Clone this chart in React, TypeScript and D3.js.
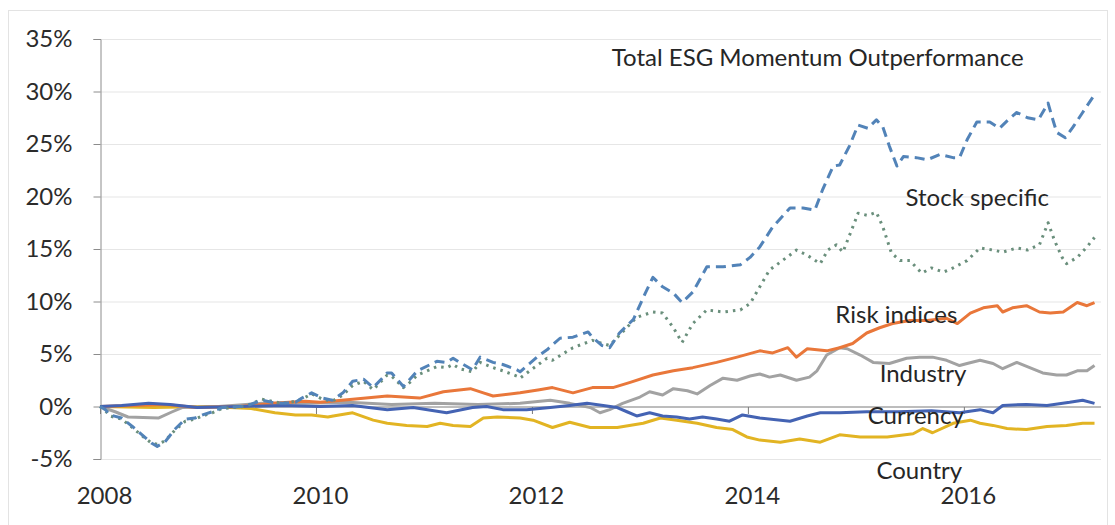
/**
 * ESG momentum outperformance decomposition — cumulative lines by component
 */
import { useEffect, useRef } from 'react';
import * as d3 from 'd3';

type Pt = [number, number]; // [decimal year, %]

const xLabelYears = [2008, 2010, 2012, 2014, 2016];
const yTickValues = [-5, 0, 5, 10, 15, 20, 25, 30, 35];

const totalSeries: Pt[] = [
  [2008.0, 0.0], [2008.05, -0.3], [2008.09, -0.8], [2008.2, -1.1], [2008.3, -1.9], [2008.39, -2.7],
  [2008.48, -3.5], [2008.53, -3.8], [2008.6, -3.4], [2008.69, -2.2], [2008.79, -1.2], [2008.88, -1.1],
  [2008.95, -0.8], [2009.04, -0.5], [2009.13, -0.1], [2009.34, 0.0], [2009.5, 0.6], [2009.59, 0.4],
  [2009.69, 0.3], [2009.81, 0.4], [2009.87, 0.8], [2009.96, 1.3], [2010.06, 0.8], [2010.15, 0.6],
  [2010.25, 1.3], [2010.34, 2.4], [2010.44, 2.6], [2010.53, 1.8], [2010.66, 3.2], [2010.7, 3.2],
  [2010.81, 1.9], [2010.87, 2.6], [2010.94, 3.4], [2011.12, 4.3], [2011.21, 4.2], [2011.27, 4.6],
  [2011.33, 4.2], [2011.45, 3.5], [2011.52, 4.7], [2011.64, 4.2], [2011.73, 4.0], [2011.86, 3.5],
  [2011.89, 3.3], [2011.98, 4.1], [2012.07, 4.9], [2012.14, 5.4], [2012.26, 6.5], [2012.38, 6.6],
  [2012.52, 7.1], [2012.56, 6.6], [2012.65, 5.8], [2012.72, 5.6], [2012.81, 7.0], [2012.94, 8.3],
  [2013.05, 10.8], [2013.12, 12.3], [2013.21, 11.4], [2013.31, 10.8], [2013.39, 9.9], [2013.49, 10.9],
  [2013.62, 13.3], [2013.77, 13.3], [2013.93, 13.5], [2014.02, 14.2], [2014.11, 15.2], [2014.23, 17.1],
  [2014.39, 18.9], [2014.51, 18.9], [2014.62, 18.7], [2014.69, 20.6], [2014.79, 22.9], [2014.85, 23.0],
  [2014.94, 24.8], [2015.02, 26.8], [2015.11, 26.5], [2015.19, 27.3], [2015.25, 26.6], [2015.31, 24.8],
  [2015.38, 22.9], [2015.44, 23.8], [2015.56, 23.7], [2015.66, 23.5], [2015.78, 24.0], [2015.9, 23.7],
  [2015.96, 23.7], [2016.03, 25.4], [2016.12, 27.1], [2016.24, 27.1], [2016.33, 26.5], [2016.41, 27.3],
  [2016.49, 28.0], [2016.59, 27.5], [2016.69, 27.3], [2016.78, 28.9], [2016.81, 27.8], [2016.86, 26.1],
  [2016.94, 25.6], [2017.01, 26.6], [2017.1, 28.0], [2017.21, 29.7],
];

const stockSeries: Pt[] = [
  [2008.0, 0.0], [2008.05, -0.4], [2008.09, -0.9], [2008.2, -1.2], [2008.3, -2.0], [2008.39, -2.8],
  [2008.48, -3.5], [2008.53, -3.6], [2008.6, -3.3], [2008.69, -2.3], [2008.79, -1.4], [2008.88, -1.2],
  [2008.95, -0.9], [2009.04, -0.6], [2009.13, -0.2], [2009.34, 0.0], [2009.5, 0.7], [2009.59, 0.5],
  [2009.69, 0.3], [2009.81, 0.5], [2009.87, 0.7], [2009.96, 1.2], [2010.06, 0.7], [2010.15, 0.5],
  [2010.25, 1.1], [2010.34, 2.0], [2010.44, 2.4], [2010.53, 1.6], [2010.66, 3.0], [2010.7, 2.9],
  [2010.81, 1.8], [2010.87, 2.3], [2010.94, 3.0], [2011.12, 3.8], [2011.21, 3.7], [2011.27, 4.0],
  [2011.33, 3.6], [2011.45, 3.3], [2011.52, 4.2], [2011.64, 3.7], [2011.73, 3.4], [2011.86, 2.9],
  [2011.89, 2.7], [2011.98, 3.4], [2012.14, 4.6], [2012.19, 4.4], [2012.38, 5.6], [2012.56, 6.3],
  [2012.72, 5.8], [2012.83, 7.0], [2012.97, 8.5], [2013.12, 9.0], [2013.21, 8.9], [2013.31, 7.5],
  [2013.39, 6.1], [2013.49, 7.9], [2013.62, 9.2], [2013.77, 9.0], [2013.93, 9.2], [2014.02, 9.8],
  [2014.11, 11.4], [2014.2, 13.0], [2014.32, 13.9], [2014.45, 14.9], [2014.55, 14.4], [2014.67, 13.6],
  [2014.74, 14.9], [2014.82, 15.4], [2014.88, 14.7], [2014.96, 16.8], [2015.02, 18.4], [2015.11, 18.2],
  [2015.19, 18.5], [2015.25, 17.1], [2015.33, 14.6], [2015.41, 13.9], [2015.5, 13.9], [2015.61, 12.7],
  [2015.7, 13.2], [2015.81, 12.8], [2015.9, 13.2], [2016.03, 13.9], [2016.15, 15.1], [2016.27, 14.9],
  [2016.36, 14.7], [2016.49, 15.1], [2016.59, 14.9], [2016.7, 15.4], [2016.78, 17.5], [2016.84, 15.8],
  [2016.91, 14.2], [2016.95, 13.6], [2017.05, 14.2], [2017.14, 15.2], [2017.21, 16.1],
];

const riskSeries: Pt[] = [
  [2008.0, 0.0], [2008.3, 0.1], [2008.6, 0.2], [2008.9, -0.1], [2009.3, 0.0], [2009.6, 0.3],
  [2009.9, 0.5], [2010.04, 0.4], [2010.34, 0.7], [2010.66, 1.0], [2010.96, 0.8], [2011.18, 1.4],
  [2011.43, 1.7], [2011.55, 1.3], [2011.64, 1.0], [2011.89, 1.3], [2012.07, 1.6], [2012.19, 1.8],
  [2012.38, 1.3], [2012.56, 1.8], [2012.75, 1.8], [2012.91, 2.3], [2013.12, 3.0], [2013.31, 3.4],
  [2013.49, 3.7], [2013.71, 4.2], [2013.9, 4.7], [2014.11, 5.3], [2014.23, 5.1], [2014.37, 5.6],
  [2014.45, 4.7], [2014.55, 5.5], [2014.73, 5.3], [2014.85, 5.6], [2014.97, 6.0], [2015.1, 7.0],
  [2015.22, 7.5], [2015.34, 7.9], [2015.5, 8.2], [2015.66, 8.2], [2015.84, 8.4], [2015.94, 7.9],
  [2016.06, 8.9], [2016.18, 9.4], [2016.31, 9.6], [2016.36, 9.0], [2016.45, 9.4], [2016.58, 9.6],
  [2016.7, 9.0], [2016.8, 8.9], [2016.92, 9.0], [2017.05, 9.9], [2017.14, 9.6], [2017.21, 9.9],
];

const industrySeries: Pt[] = [
  [2008.0, 0.0], [2008.14, -0.5], [2008.26, -1.0], [2008.54, -1.1], [2008.67, -0.5], [2008.76, -0.1],
  [2009.1, 0.0], [2009.5, 0.3], [2009.9, 0.3], [2010.3, 0.4], [2010.7, 0.2], [2011.1, 0.3],
  [2011.5, 0.2], [2011.89, 0.3], [2012.17, 0.6], [2012.35, 0.3], [2012.54, -0.1], [2012.63, -0.6],
  [2012.72, -0.3], [2012.84, 0.3], [2013.0, 0.9], [2013.09, 1.4], [2013.21, 1.1], [2013.31, 1.7],
  [2013.44, 1.5], [2013.53, 1.2], [2013.65, 2.0], [2013.77, 2.7], [2013.9, 2.5], [2014.02, 2.9],
  [2014.11, 3.1], [2014.2, 2.8], [2014.3, 3.0], [2014.45, 2.5], [2014.57, 2.8], [2014.64, 3.4],
  [2014.73, 4.9], [2014.85, 5.6], [2014.92, 5.5], [2015.04, 4.9], [2015.16, 4.2], [2015.31, 4.1],
  [2015.47, 4.6], [2015.59, 4.7], [2015.71, 4.7], [2015.84, 4.4], [2015.96, 3.9], [2016.03, 4.1],
  [2016.15, 4.4], [2016.27, 4.1], [2016.36, 3.6], [2016.49, 4.2], [2016.61, 3.7], [2016.73, 3.2],
  [2016.86, 3.0], [2016.95, 3.0], [2017.05, 3.4], [2017.14, 3.4], [2017.21, 3.9],
];

const currencySeries: Pt[] = [
  [2008.0, 0.0], [2008.2, 0.1], [2008.45, 0.3], [2008.65, 0.2], [2008.9, -0.1], [2009.3, 0.0],
  [2009.7, 0.1], [2010.04, 0.0], [2010.34, 0.1], [2010.66, -0.3], [2010.9, -0.1], [2011.21, -0.6],
  [2011.45, -0.1], [2011.58, 0.0], [2011.73, -0.3], [2011.95, -0.3], [2012.17, -0.1], [2012.35, 0.1],
  [2012.51, 0.3], [2012.66, 0.1], [2012.79, -0.1], [2012.88, -0.5], [2012.97, -0.9], [2013.09, -0.6],
  [2013.21, -0.9], [2013.34, -1.0], [2013.46, -1.2], [2013.58, -1.0], [2013.71, -1.2], [2013.83, -1.4],
  [2013.95, -0.8], [2014.11, -1.1], [2014.39, -1.4], [2014.55, -0.9], [2014.67, -0.6], [2014.85, -0.6],
  [2015.1, -0.5], [2015.4, -0.5], [2015.7, -0.4], [2015.96, -0.6], [2016.15, -0.3], [2016.27, -0.6],
  [2016.36, 0.1], [2016.58, 0.2], [2016.77, 0.1], [2016.98, 0.4], [2017.1, 0.6], [2017.21, 0.3],
];

const countrySeries: Pt[] = [
  [2008.0, 0.0], [2008.5, -0.1], [2009.0, 0.0], [2009.4, -0.2], [2009.62, -0.6], [2009.81, -0.8],
  [2009.96, -0.8], [2010.11, -1.0], [2010.16, -0.9], [2010.34, -0.6], [2010.53, -1.3], [2010.66, -1.6],
  [2010.84, -1.8], [2011.03, -1.9], [2011.15, -1.6], [2011.27, -1.8], [2011.43, -1.9], [2011.55, -1.1],
  [2011.68, -1.0], [2011.89, -1.1], [2012.01, -1.3], [2012.19, -2.0], [2012.35, -1.5], [2012.54, -2.0],
  [2012.79, -2.0], [2013.03, -1.6], [2013.19, -1.1], [2013.34, -1.3], [2013.53, -1.6], [2013.71, -2.0],
  [2013.86, -2.2], [2013.99, -2.9], [2014.11, -3.2], [2014.3, -3.4], [2014.48, -3.1], [2014.67, -3.4],
  [2014.85, -2.7], [2015.04, -2.9], [2015.29, -2.9], [2015.53, -2.6], [2015.62, -2.1], [2015.71, -2.5],
  [2015.9, -1.6], [2016.06, -1.3], [2016.15, -1.6], [2016.27, -1.8], [2016.4, -2.1], [2016.58, -2.2],
  [2016.77, -1.9], [2016.95, -1.8], [2017.1, -1.6], [2017.21, -1.6],
];

// draw order: back to front
const seriesList = [
  { name: 'Country', data: countrySeries, color: '#e2b423', dash: null, width: 3 },
  { name: 'Industry', data: industrySeries, color: '#a2a2a2', dash: null, width: 3 },
  { name: 'Risk indices', data: riskSeries, color: '#e9773a', dash: null, width: 3 },
  { name: 'Currency', data: currencySeries, color: '#4463b3', dash: null, width: 3 },
  { name: 'Stock specific', data: stockSeries, color: '#6a8f7c', dash: '2.5,5', width: 3 },
  { name: 'Total', data: totalSeries, color: '#5283b8', dash: '10,6', width: 3 },
];

// text annotations, anchored at [year, %]
const annotations = [
  { text: 'Total ESG Momentum Outperformance', year: 2012.74, value: 33.3 },
  { text: 'Stock specific', year: 2015.46, value: 20.0 },
  { text: 'Risk indices', year: 2014.81, value: 8.9 },
  { text: 'Industry', year: 2015.22, value: 3.2 },
  { text: 'Currency', year: 2015.11, value: -0.8 },
  { text: 'Country', year: 2015.19, value: -6.0 },
];

const FONT = 'Lato, "Open Sans", sans-serif';

export default function App() {
  const svgRef = useRef<SVGSVGElement>(null);
  const width = 1115;
  const height = 525;

  useEffect(() => {
    if (!svgRef.current) return;
    const svg = d3.select(svgRef.current);
    svg.selectAll('*').remove();

    const plot = { left: 100, right: 1101, top: 39, bottom: 459 };
    const xScale = d3.scaleLinear().domain([2008, 2017.27]).range([plot.left, plot.right]);
    const yScale = d3.scaleLinear().domain([-5, 35]).range([plot.bottom, plot.top]);

    // outer frame
    svg.append('rect')
      .attr('x', 8.5).attr('y', 10.5)
      .attr('width', 1099).attr('height', 530)
      .attr('fill', '#fff')
      .attr('stroke', '#e3e3e3');

    // gridlines
    svg.append('g')
      .selectAll('line')
      .data(yTickValues.filter((v) => v !== 0))
      .enter()
      .append('line')
      .attr('x1', plot.left).attr('x2', plot.right)
      .attr('y1', (d) => yScale(d) + 0.5).attr('y2', (d) => yScale(d) + 0.5)
      .attr('stroke', '#e6e6e6')
      .attr('stroke-width', 1.2);

    // y axis
    const yAxis = svg.append('g')
      .attr('transform', `translate(${plot.left + 0.5},0)`)
      .call(d3.axisLeft(yScale).tickValues(yTickValues).tickSize(7).tickPadding(21).tickFormat((d) => `${d}%`));
    yAxis.select('.domain').attr('stroke', '#8c8c8c');
    yAxis.selectAll('.tick line').attr('stroke', '#8c8c8c');
    yAxis.selectAll('.tick text')
      .attr('fill', '#2b2b2b')
      .attr('font-family', FONT)
      .attr('font-size', '24px');

    // horizontal axis line at 0 with ticks every 2 years
    const zeroAxis = svg.append('g')
      .attr('transform', `translate(0,${yScale(0) + 0.5})`)
      .call(d3.axisBottom(xScale).tickValues(xLabelYears).tickSize(7).tickFormat(() => ''));
    zeroAxis.select('.domain').attr('stroke', '#7a7a7a').attr('d', `M${plot.left},0H${plot.right}`);
    zeroAxis.selectAll('.tick line').attr('stroke', '#7a7a7a');

    // year labels under the plot
    const xLabels = svg.append('g')
      .attr('transform', `translate(4,${plot.bottom + 14})`)
      .call(d3.axisBottom(xScale).tickValues(xLabelYears).tickSize(0).tickPadding(14).tickFormat(d3.format('d')));
    xLabels.select('.domain').remove();
    xLabels.selectAll('.tick text')
      .attr('fill', '#2b2b2b')
      .attr('font-family', FONT)
      .attr('font-size', '24px');

    // series lines
    const line = d3.line<Pt>()
      .x((d) => xScale(d[0]))
      .y((d) => yScale(d[1]))
      .curve(d3.curveLinear);

    svg.append('g')
      .selectAll('path')
      .data(seriesList)
      .enter()
      .append('path')
      .attr('d', (s) => line(s.data))
      .attr('fill', 'none')
      .attr('stroke', (s) => s.color)
      .attr('stroke-width', (s) => s.width)
      .attr('stroke-dasharray', (s) => s.dash ?? null)
      .attr('stroke-linejoin', 'round');

    // annotations
    svg.append('g')
      .selectAll('text')
      .data(annotations)
      .enter()
      .append('text')
      .attr('x', (d) => xScale(d.year))
      .attr('y', (d) => yScale(d.value))
      .attr('dominant-baseline', 'central')
      .attr('fill', '#262626')
      .attr('font-family', FONT)
      .attr('font-size', '24px')
      .text((d) => d.text);
  }, []);

  return (
    <svg
      ref={svgRef}
      width={width}
      height={height}
      style={{ position: 'absolute', left: 0, top: 0, background: '#fff' }}
    />
  );
}
